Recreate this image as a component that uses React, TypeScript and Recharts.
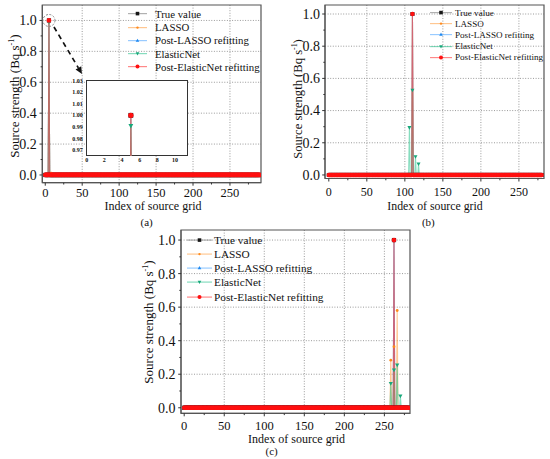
import React from 'react';
import {
  LineChart,
  Line,
  XAxis,
  YAxis,
  CartesianGrid,
  Legend,
  ReferenceArea,
  ReferenceDot,
  ReferenceLine,
} from 'recharts';

const serif = '"Liberation Serif", "Times New Roman", serif';

// source grid indices (panel a's axis runs a bit longer than b and c)
const gridA = Array.from({ length: 291 }, (_, i) => i);
const gridBC = Array.from({ length: 281 }, (_, i) => i);

const seriesNames = ['True value', 'LASSO', 'Post-LASSO refitting', 'ElasticNet', 'Post-ElasticNet refitting'];

// non-zero entries only: [grid index, source strength]; every other index is 0
const caseA_true = [[5, 1.0]];
const caseA_lasso = [[5, 1.0], [8, 0.012]];
const caseA_postLasso = [[5, 1.0]];
const caseA_elastic = [[5, 0.991]];
const caseA_postElastic = [[5, 1.0]];

const caseB_true = [[110, 1.0]];
const caseB_lasso = [[110, 1.0]];
const caseB_postLasso = [[110, 1.0]];
const caseB_elastic = [[106, 0.295], [110, 0.527], [114, 0.114], [118, 0.069]];
const caseB_postElastic = [[110, 1.0]];

const caseC_true = [[262, 1.0]];
const caseC_lasso = [[258, 0.284], [262, 0.364], [266, 0.58]];
const caseC_postLasso = [[262, 1.0]];
const caseC_elastic = [[258, 0.145], [262, 0.225], [266, 0.255], [270, 0.07]];
const caseC_postElastic = [[262, 1.0]];

const xMajor = [0, 50, 100, 150, 200, 250];
const xMinor = [25, 75, 125, 175, 225, 275];
const yMajor = [0, 0.2, 0.4, 0.6, 0.8, 1.0];
const yMinor = [0.1, 0.3, 0.5, 0.7, 0.9];

const insetX = [0, 2, 4, 6, 8, 10];
const insetY = [0.97, 0.98, 0.99, 1.0, 1.01, 1.02, 1.03];

const seriesStyle = [
  { key: 'truth', shape: 'square', mark: '#161616', line: '#7d7d7d', size: 4.2 },
  { key: 'lasso', shape: 'circle', mark: '#ff8a1c', line: '#ffa24a', size: 2.8 },
  { key: 'postLasso', shape: 'up', mark: '#1e88f0', line: '#55a8ff', size: 4.2 },
  { key: 'elastic', shape: 'down', mark: '#17a77a', line: '#35c592', size: 4.2 },
  { key: 'postElastic', shape: 'circle', mark: '#ff1010', line: '#ff3b3b', size: 4.7 },
];

const sparseValue = (pairs: number[][], i: number) => {
  const hit = pairs.find((p) => p[0] === i);
  return hit ? hit[1] : 0;
};

const buildRows = (grid: number[], sets: number[][][]) =>
  grid.map((i) => {
    const row: any = { idx: i };
    seriesStyle.forEach((s, k) => {
      row[s.key] = sparseValue(sets[k], i);
    });
    return row;
  });

const rowsA = buildRows(gridA, [caseA_true, caseA_lasso, caseA_postLasso, caseA_elastic, caseA_postElastic]);
const rowsB = buildRows(gridBC, [caseB_true, caseB_lasso, caseB_postLasso, caseB_elastic, caseB_postElastic]);
const rowsC = buildRows(gridBC, [caseC_true, caseC_lasso, caseC_postLasso, caseC_elastic, caseC_postElastic]);
const rowsInset = rowsA.slice(0, 13);

function marker(shape: string, cx: number, cy: number, size: number, color: string) {
  const h = size / 2;
  if (shape === 'square') return <rect x={cx - h} y={cy - h} width={size} height={size} fill={color} />;
  if (shape === 'up')
    return <polygon points={`${cx},${cy - h * 1.1} ${cx - h},${cy + h * 0.7} ${cx + h},${cy + h * 0.7}`} fill={color} />;
  if (shape === 'down')
    return <polygon points={`${cx},${cy + h * 1.1} ${cx - h},${cy - h * 0.7} ${cx + h},${cy - h * 0.7}`} fill={color} />;
  return <circle cx={cx} cy={cy} r={h} fill={color} />;
}

const makeDot = (shape: string, color: string, size: number) => (p: any) => {
  const { cx, cy, index } = p;
  if (cx == null || cy == null) return <g key={`d${index}`} />;
  return <g key={`d${index}`}>{marker(shape, cx, cy, size, color)}</g>;
};

function XTick(props: any) {
  const { x, y, payload, font, majors, bold, labelGap } = props;
  const isMajor = majors.includes(payload.value);
  return (
    <g>
      {props.tickLen > 0 && (
        <line x1={x} y1={y} x2={x} y2={y + (isMajor ? props.tickLen : props.tickLen * 0.6)} stroke="#333" strokeWidth={1} />
      )}
      {isMajor && (
        <text x={x} y={y + labelGap + font * 0.35} textAnchor="middle" fontSize={font} fontFamily={serif}
          fontWeight={bold ? 'bold' : 'normal'} fill="#111">
          {payload.value}
        </text>
      )}
    </g>
  );
}

function YTick(props: any) {
  const { x, y, payload, font, majors, digits, bold, labelGap } = props;
  const isMajor = majors.includes(payload.value);
  return (
    <g>
      {props.tickLen > 0 && (
        <line x1={x} y1={y} x2={x - (isMajor ? props.tickLen : props.tickLen * 0.6)} y2={y} stroke="#333" strokeWidth={1} />
      )}
      {isMajor && (
        <text x={x - labelGap} y={y + font * 0.35} textAnchor="end" fontSize={font} fontFamily={serif}
          fontWeight={bold ? 'bold' : 'normal'} fill="#111">
          {payload.value.toFixed(digits)}
        </text>
      )}
    </g>
  );
}

function LegendBox({ payload, font, rowH, lineW, gap }: any) {
  const items = seriesStyle.map((s, i) => {
    const hit = (payload || []).find((p: any) => p.dataKey === s.key);
    return { s, label: hit ? hit.value : seriesNames[i] };
  });
  return (
    <div style={{ fontFamily: serif, fontSize: font, color: '#111' }}>
      {items.map(({ s, label }) => (
        <div key={s.key} style={{ display: 'flex', alignItems: 'center', height: rowH, whiteSpace: 'nowrap' }}>
          <svg width={lineW + gap} height={rowH} style={{ display: 'block', flex: 'none' }}>
            <line x1={0} y1={rowH / 2} x2={lineW} y2={rowH / 2} stroke={s.line} strokeOpacity={0.6} strokeWidth={1.2} />
            {marker(s.shape, lineW / 2, rowH / 2, s.size * 0.85, s.mark)}
          </svg>
          <span>{label}</span>
        </div>
      ))}
    </div>
  );
}

function ArrowShape(p: any) {
  const { x1, y1, x2, y2 } = p;
  const ang = Math.atan2(y2 - y1, x2 - x1);
  const L = 7;
  const W = 3.3;
  const bx = x2 - L * Math.cos(ang);
  const by = y2 - L * Math.sin(ang);
  const px = -Math.sin(ang) * W;
  const py = Math.cos(ang) * W;
  return (
    <g>
      <line x1={x1} y1={y1} x2={bx} y2={by} stroke="#111" strokeWidth={1.7} strokeDasharray="5 4" />
      <polygon points={`${x2},${y2} ${bx + px},${by + py} ${bx - px},${by - py}`} fill="#111" />
    </g>
  );
}

function Panel(props: any) {
  const { rows, left, top, width, height, margin, xDomain, yDomain, xFont, yFont, xGap, yGap, legend, markScale, children } =
    props;
  // axes get a 1px size so they still render; the margin makes up for it
  const m = { ...margin, left: margin.left - 1, bottom: margin.bottom - 1 };
  return (
    <div style={{ position: 'absolute', left, top }}>
      <LineChart width={width} height={height} data={rows} margin={m}>
        <CartesianGrid
          stroke="#9a9a9a"
          strokeDasharray="1 1.6"
          horizontalValues={yMajor.slice(1)}
          verticalValues={xMajor.slice(1)}
        />
        <XAxis
          type="number"
          dataKey="idx"
          domain={xDomain}
          allowDataOverflow
          ticks={[...xMajor, ...xMinor]}
          interval={0}
          height={1}
          tickSize={0}
          tickMargin={0}
          tickLine={false}
          axisLine={{ stroke: '#555' }}
          tick={(p: any) => <XTick {...p} font={xFont} majors={xMajor} tickLen={3} labelGap={xGap} />}
        />
        <YAxis
          type="number"
          domain={yDomain}
          allowDataOverflow
          ticks={[...yMajor, ...yMinor]}
          interval={0}
          width={1}
          tickSize={0}
          tickMargin={0}
          tickLine={false}
          axisLine={{ stroke: '#555' }}
          tick={(p: any) => <YTick {...p} font={yFont} majors={yMajor} digits={1} tickLen={2.8} labelGap={yGap} />}
        />
        <ReferenceArea x1={xDomain[0]} x2={xDomain[1]} y1={yDomain[0]} y2={yDomain[1]} fill="none" stroke="#555" strokeWidth={1.2} />
        {seriesStyle.map((s, i) => (
          <Line
            key={s.key}
            dataKey={s.key}
            name={seriesNames[i]}
            type="linear"
            stroke={s.line}
            strokeOpacity={0.6}
            strokeWidth={1.1}
            dot={makeDot(s.shape, s.mark, s.size * markScale)}
            activeDot={false}
            isAnimationActive={false}
          />
        ))}
        <Legend
          layout="vertical"
          align="center"
          verticalAlign="middle"
          wrapperStyle={{ left: legend.left, top: legend.top, width: 'auto' }}
          content={(p: any) => (
            <LegendBox payload={p.payload} font={legend.font} rowH={legend.rowH} lineW={legend.lineW} gap={legend.gap} />
          )}
        />
        {children}
      </LineChart>
    </div>
  );
}

function Title({ x, y, size, rotate, children }: any) {
  return (
    <div
      style={{
        position: 'absolute',
        left: x,
        top: y,
        transform: `translate(-50%, -50%)${rotate ? ' rotate(-90deg)' : ''}`,
        whiteSpace: 'nowrap',
        fontFamily: serif,
        fontSize: size,
        lineHeight: 1,
        color: '#111',
      }}
    >
      {children}
    </div>
  );
}

const YTitle = () => (
  <>
    Source strength (Bq s<sup style={{ fontSize: '0.62em', verticalAlign: '0.6em', lineHeight: 0 }}>-1</sup>)
  </>
);

// zoom markers of panel (a), in data units
const zoomArrowStart = { x: 11.8, y: 0.958 };
const zoomArrowEnd = { x: 49.7, y: 0.654 };

export default function App() {
  return (
    <div style={{ position: 'absolute', left: 0, top: 0, width: 550, height: 459, background: '#fff', overflow: 'hidden' }}>
      <Panel
        rows={rowsA}
        left={0}
        top={0}
        width={275}
        height={225}
        margin={{ top: 5, right: 14, bottom: 42.3, left: 42.3 }}
        xDomain={[-4, 292]}
        yDomain={[-0.05, 1.1]}
        xFont={12.5}
        yFont={14}
        xGap={9.8}
        yGap={5.6}
        markScale={1}
        legend={{ left: 128, top: 7.4, font: 10.8, rowH: 13.2, lineW: 19, gap: 8 }}
      >
        <ReferenceDot x={5} y={1.0} r={6} fill="none" stroke="#888" strokeDasharray="2 1.5" ifOverflow="visible" />
        <ReferenceLine segment={[zoomArrowStart, zoomArrowEnd]} shape={ArrowShape} ifOverflow="visible" />
      </Panel>

      <Panel
        rows={rowsB}
        left={275}
        top={0}
        width={275}
        height={225}
        margin={{ top: 5, right: 6, bottom: 46.5, left: 50 }}
        xDomain={[-5, 283]}
        yDomain={[-0.022, 1.056]}
        xFont={12}
        yFont={14}
        xGap={13.3}
        yGap={5}
        markScale={0.95}
        legend={{ left: 155, top: 7.1, font: 9.1, rowH: 11.15, lineW: 22, gap: 3 }}
      />

      <Panel
        rows={rowsC}
        left={140}
        top={225}
        width={280}
        height={234}
        margin={{ top: 5, right: 10, bottom: 45.7, left: 41 }}
        xDomain={[-4, 282]}
        yDomain={[-0.033, 1.06]}
        xFont={12.5}
        yFont={14}
        xGap={12.3}
        yGap={5.6}
        markScale={1}
        legend={{ left: 47, top: 7.9, font: 11.3, rowH: 14.17, lineW: 25, gap: 2 }}
      />

      {/* inset of panel (a) */}
      <div
        style={{
          position: 'absolute',
          left: 86,
          top: 80,
          width: 101.7,
          height: 76,
          background: '#fff',
          border: '1.5px solid #333',
          boxSizing: 'border-box',
        }}
      />
      <div style={{ position: 'absolute', left: 60, top: 70 }}>
        <LineChart width={135} height={100} data={rowsInset} margin={{ top: 10, right: 7.3, bottom: 13, left: 25 }}>
          <XAxis
            type="number"
            dataKey="idx"
            domain={[-0.08, 11.44]}
            allowDataOverflow
            ticks={insetX}
            interval={0}
            height={1}
            tickSize={0}
            tickMargin={0}
            tickLine={false}
            axisLine={false}
            tick={(p: any) => <XTick {...p} font={6} majors={insetX} tickLen={0} labelGap={4.3} bold />}
          />
          <YAxis
            type="number"
            domain={[0.9648, 1.0306]}
            allowDataOverflow
            ticks={insetY}
            interval={0}
            width={1}
            tickSize={0}
            tickMargin={0}
            tickLine={false}
            axisLine={false}
            tick={(p: any) => <YTick {...p} font={6} majors={insetY} digits={2} tickLen={0} labelGap={3.3} bold />}
          />
          {seriesStyle.map((s, i) => (
            <Line
              key={s.key}
              dataKey={s.key}
              name={seriesNames[i]}
              type="linear"
              stroke={s.line}
              strokeOpacity={0.6}
              strokeWidth={1.1}
              dot={makeDot(s.shape, s.mark, s.size * 1.15)}
              activeDot={false}
              isAnimationActive={false}
            />
          ))}
        </LineChart>
      </div>

      <Title x={13.5} y={95.5} size={13} rotate>
        <YTitle />
      </Title>
      <Title x={153} y={205.5} size={12}>Index of source grid</Title>
      <Title x={146.7} y={221.5} size={11}>(a)</Title>

      <Title x={297.5} y={98.5} size={12.6} rotate>
        <YTitle />
      </Title>
      <Title x={435} y={206.5} size={11.8}>Index of source grid</Title>
      <Title x={428.3} y={221.5} size={11}>(b)</Title>

      <Title x={148.3} y={321.5} size={13} rotate>
        <YTitle />
      </Title>
      <Title x={296.5} y={439} size={12}>Index of source grid</Title>
      <Title x={271.7} y={451} size={11}>(c)</Title>
    </div>
  );
}
